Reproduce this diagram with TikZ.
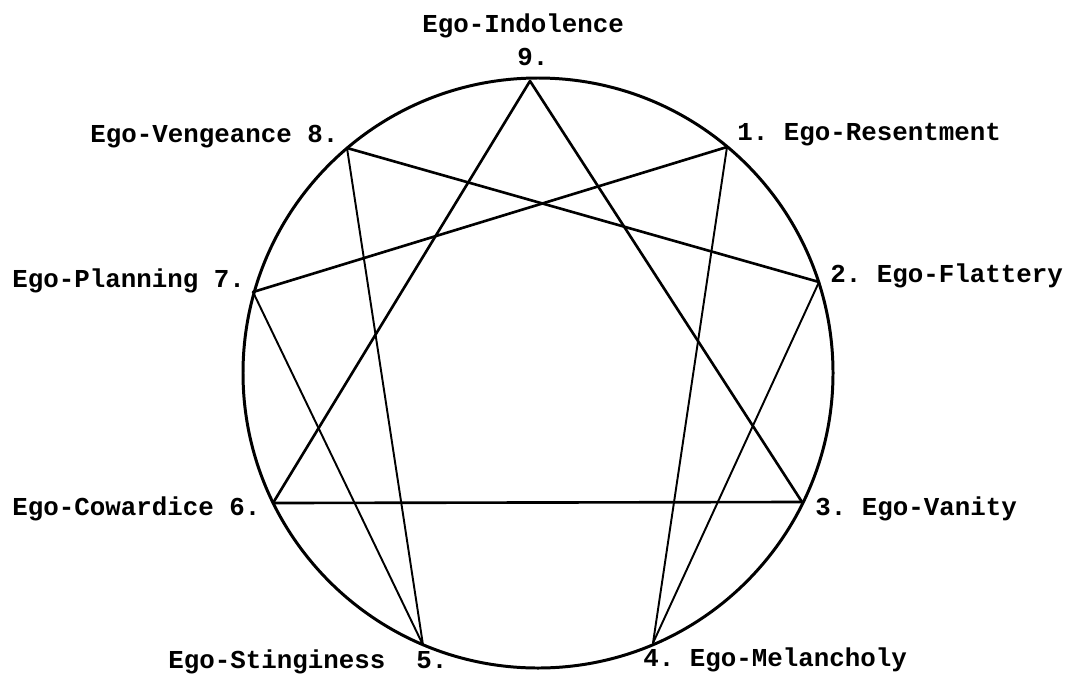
\documentclass[tikz,border=0pt]{standalone}
\usepackage{fontspec}
\setmonofont{Liberation Mono}
\usepackage{tikz}
\usetikzlibrary{positioning}

\begin{document}
\begin{tikzpicture}[
  x=0.02cm, y=-0.02cm,
  every node/.style={inner sep=0pt, anchor=base west,
                     font=\ttfamily\bfseries\fontsize{14.7pt}{17pt}\selectfont},
  ring/.style={line width=1.7pt},
  chord/.style={line width=1.1pt, line cap=round},
  heavy chord/.style={line width=1.5pt, line cap=round}
]
\useasboundingbox (0,0) rectangle (1081,683);

% centre and the nine points
\coordinate (c)  at (538,373);
\coordinate (p1) at (727,147);
\coordinate (p2) at (819,282);
\coordinate (p3) at (802,502);
\coordinate (p4) at (653,643);
\coordinate (p5) at (423,645);
\coordinate (p6) at (273,503);
\coordinate (p7) at (253,292);
\coordinate (p8) at (347,148);
\coordinate (p9) at (530,81);

\draw[ring] (c) circle[radius=295];

% triangle
\draw[heavy chord] (p9) -- (p3);
\draw[heavy chord] (p3) -- (p6);
\draw[heavy chord] (p6) -- (p9);

% hexad 1-4-2-8-5-7-1
\draw[chord]       (p1) -- (p4);
\draw[chord]       (p4) -- (p2);
\draw[heavy chord] (p2) -- (p8);
\draw[chord]       (p8) -- (p5);
\draw[chord]       (p5) -- (p7);
\draw[heavy chord] (p7) -- (p1);

% labels
\node (t9) at (422,32)  {Ego-Indolence};
\node (n9) at (517,65)  {9.};
\node (l1) at (737,140) {1. Ego-Resentment};
\node (l2) at (830,282) {2. Ego-Flattery};
\node (l3) at (815,515) {3. Ego-Vanity};
\node (l4) at (643,666) {4. Ego-Melancholy};
\node (l5) at (168,668) {Ego-Stinginess\ \ 5.};
\node (l6) at (12,515)  {Ego-Cowardice 6.};
\node (l7) at (12,287)  {Ego-Planning 7.};
\node (l8) at (90,142)  {Ego-Vengeance 8.};
\end{tikzpicture}
\end{document}
